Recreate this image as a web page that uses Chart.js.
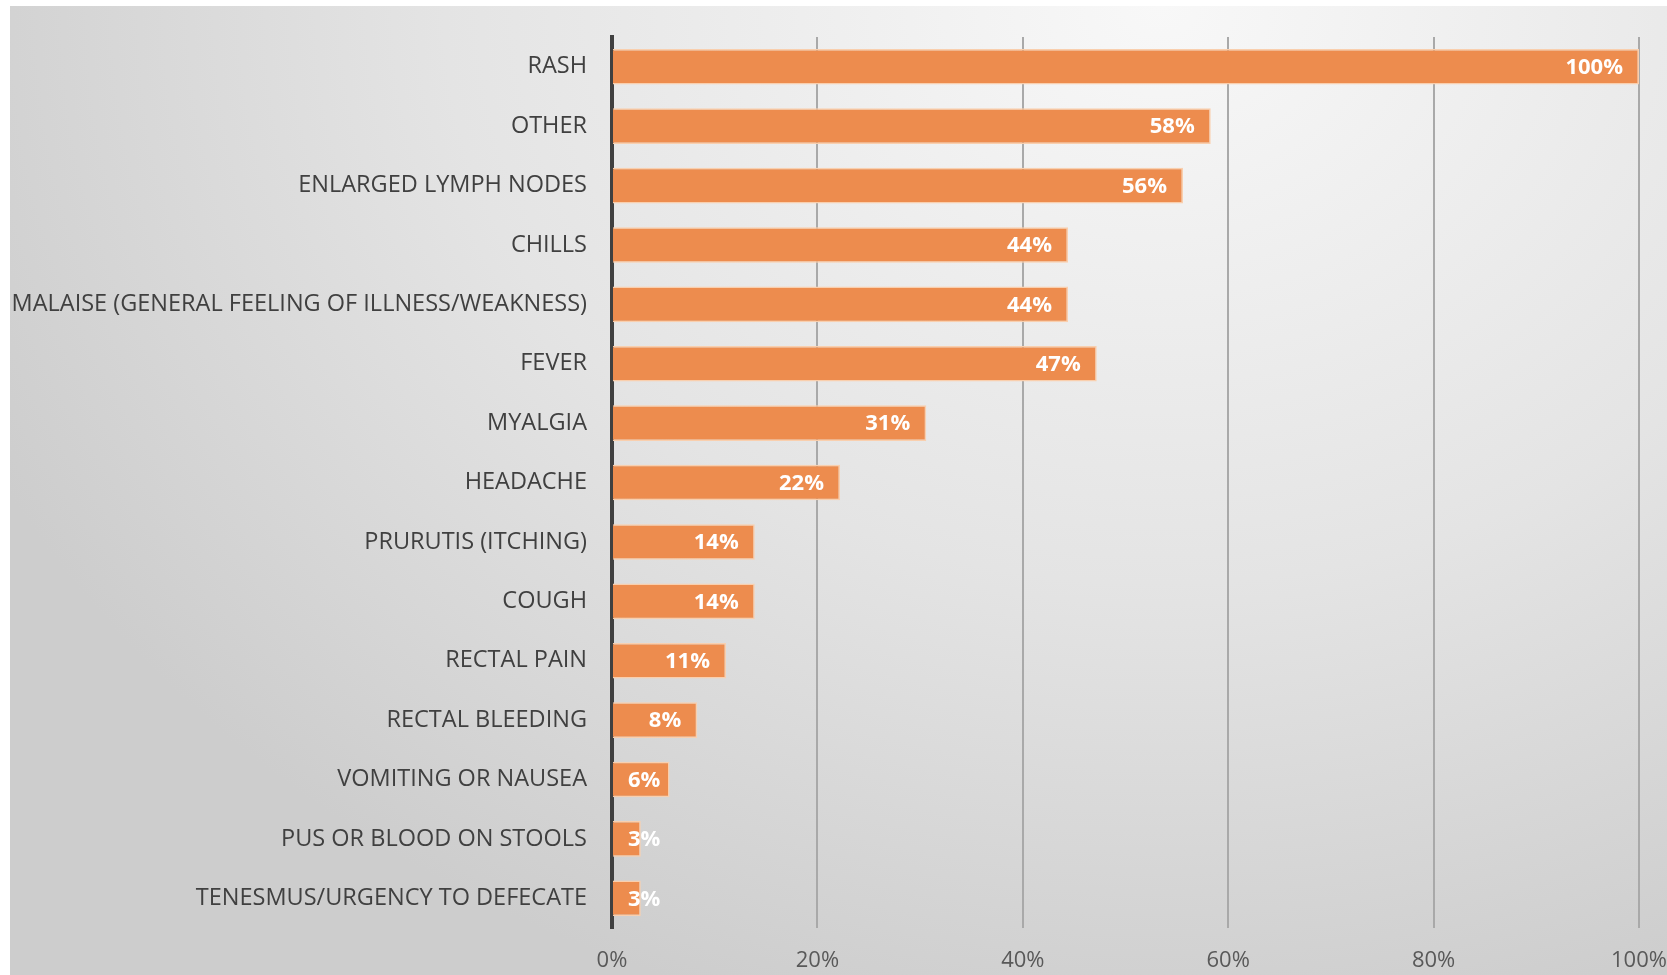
<!DOCTYPE html>
<html>
<head>
<meta charset="utf-8">
<script src="https://cdn.jsdelivr.net/npm/chart.js@4/dist/chart.umd.min.js"></script>
<style>
    html, body { margin: 0; padding: 0; background: #fff; overflow: hidden; }
    #wrap {
        position: absolute; left: 10px; top: 6px; width: 1657px; height: 969px;
        background: radial-gradient(ellipse 1300px 1050px at 1150px 0px, #f8f8f8 0%, #e4e4e4 55%, #cdcdcd 100%);
    }
</style>
</head>
<body>
<div id="wrap"><canvas id="chart" width="1657" height="969"></canvas></div>
<script>
const symptoms = [
    'RASH', 'OTHER', 'ENLARGED LYMPH NODES', 'CHILLS',
    'MALAISE (GENERAL FEELING OF ILLNESS/WEAKNESS)', 'FEVER', 'MYALGIA', 'HEADACHE',
    'PRURUTIS (ITCHING)', 'COUGH', 'RECTAL PAIN', 'RECTAL BLEEDING',
    'VOMITING OR NAUSEA', 'PUS OR BLOOD ON STOOLS', 'TENESMUS/URGENCY TO DEFECATE'
];
const shares = [100, 58.3, 55.6, 44.4, 44.4, 47.2, 30.6, 22.2, 13.9, 13.9, 11.1, 8.3, 5.6, 2.8, 2.8];
const xTicks = [0, 20, 40, 60, 80, 100];

const labelFont = '"Open Sans", sans-serif';

// white bold value labels at the inside end of each bar
const valueLabels = {
    id: 'valueLabels',
    afterDatasetsDraw(chart) {
        const ctx = chart.ctx;
        const meta = chart.getDatasetMeta(0);
        const base = chart.chartArea.left;
        ctx.save();
        ctx.font = `bold 22px ${labelFont}`;
        ctx.fillStyle = '#ffffff';
        ctx.textAlign = 'right';
        ctx.textBaseline = 'middle';
        meta.data.forEach((bar, i) => {
            const txt = Math.round(shares[i]) + '%';
            const w = ctx.measureText(txt).width;
            const right = Math.max(bar.x - 16, base + 16 + w);
            ctx.fillText(txt, right, bar.y + 1);
        });
        ctx.restore();
    }
};

new Chart(document.getElementById('chart'), {
    type: 'bar',
    data: {
        labels: symptoms,
        datasets: [{
            data: shares,
            backgroundColor: '#ed8c4e',
            borderColor: '#f9cfae',
            borderWidth: 1.5,
            borderSkipped: 'left',
            categoryPercentage: 1,
            barPercentage: 0.6,
        }]
    },
    options: {
        indexAxis: 'y',
        responsive: false,
        animation: false,
        layout: { padding: { top: 28, right: 28, bottom: 0, left: 0 } },
        plugins: {
            legend: { display: false },
            tooltip: { enabled: false },
        },
        scales: {
            x: {
                min: 0,
                max: 100,
                afterBuildTicks: (scale) => {
                    scale.ticks = xTicks.map(v => ({ value: v }));
                },
                afterFit: (scale) => {
                    scale.height = 47;
                    scale.paddingRight = 0;  // let the 100% label run off the edge
                },
                ticks: {
                    color: '#595959',
                    font: { family: labelFont, size: 22 },
                    padding: 20,
                    callback: (v) => v + '%',
                },
                grid: { color: '#a9a9a9', lineWidth: 2, drawTicks: false },
                border: { display: false },
            },
            y: {
                afterFit: (scale) => { scale.width = 602; },
                ticks: {
                    color: '#404040',
                    font: { family: labelFont, size: 23.5 },
                    padding: 17,
                },
                grid: { display: false },
                border: { color: '#404040', width: 4 },
            }
        }
    },
    plugins: [valueLabels],
});
</script>
</body>
</html>
